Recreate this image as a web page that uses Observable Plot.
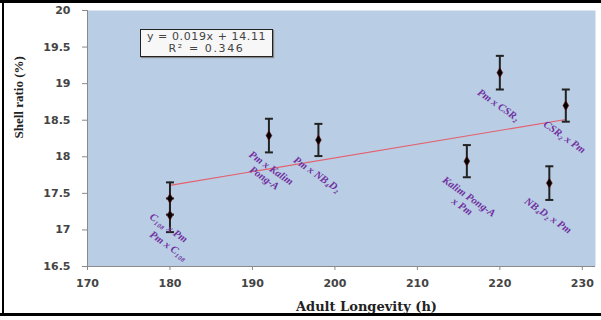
<!DOCTYPE html>
<html>
<head>
<meta charset="utf-8">
<script src="https://cdn.jsdelivr.net/npm/d3@7"></script>
<script src="https://cdn.jsdelivr.net/npm/@observablehq/plot@0.6"></script>
<style>
  html, body { margin: 0; padding: 0; background: #fff; }
  #wrap { position: relative; width: 601px; height: 320px; overflow: hidden; }
  #eq { position: absolute; left: 140px; top: 29px; width: 131px; height: 25px;
        border: 1.5px solid #222; background: #f7f7f7; box-shadow: 1px 1px 1px #888;
        font: 11px "DejaVu Sans", sans-serif; color: #444; text-align: center; line-height: 12px;
        letter-spacing: 0.6px; padding-top: 1px; }
  #eq2 { letter-spacing: 1.6px; }
  .bl { position: absolute; background: #000; }
</style>
</head>
<body>
<div id="wrap">
  <div id="chart"></div>
  <div id="eq"><div id="eq1"></div><div id="eq2"></div></div>
  <div class="bl" style="left:0;top:0;width:601px;height:3px"></div>
  <div class="bl" style="left:2px;top:0;width:2px;height:316px"></div>
  <div class="bl" style="left:0;top:313px;width:601px;height:3px"></div>
</div>
<script>
// ---- data ----
const crosses = ["C₁₀₈ x Pm", "Pm x C₁₀₈", "Pm x Kalim\nPong-A", "Pm x NB₄D₂", "Kalim Pong-A\nx Pm", "Pm x CSR₂", "CSR₂ x Pm", "NB₄D₂ x Pm"];
const longevity = [180, 180, 192, 198, 216, 220, 228, 226];
const shellRatio = [17.43, 17.20, 18.29, 18.23, 17.94, 19.15, 18.70, 17.64];
const errorBar = [0.22, 0.23, 0.23, 0.22, 0.22, 0.23, 0.22, 0.23];
const trendX = [180, 228];
const trendY = [17.61, 18.51];
const xTicks = [170, 180, 190, 200, 210, 220, 230];
const yTicks = [16.5, 17, 17.5, 18, 18.5, 19, 19.5, 20];
const yTickLabels = ["16.5", "17", "17.5", "18", "18.5", "19", "19.5", "20"];
const equationLines = ["y = 0.019x + 14.11", "R² = 0.346"];
const xTitle = "Adult Longevity (h)";
const yTitle = "Shell ratio (%)";

// ---- build ----
const pts = crosses.map((c, i) => ({c, x: longevity[i], y: shellRatio[i], lo: shellRatio[i] - errorBar[i], hi: shellRatio[i] + errorBar[i]}));
const trend = trendX.map((x, i) => ({x, y: trendY[i]}));
const labelDy = [29, 30, 37, 34, 40, 32, 31, 32];
const capSymbol = { draw(ctx) { ctx.moveTo(-4, 0); ctx.lineTo(4, 0); } };
const labelFont = { fontFamily: "Liberation Serif, serif", fontStyle: "italic", fontWeight: "bold", fontSize: 10.5, fill: "#7030a0" };

const chart = Plot.plot({
  width: 601, height: 320,
  marginLeft: 87, marginRight: 6, marginTop: 10, marginBottom: 54,
  style: { background: "transparent", fontFamily: "DejaVu Sans, sans-serif" },
  x: { domain: [170, 231.6], ticks: xTicks, label: null },
  y: { domain: [16.5, 20], ticks: yTicks, label: null },
  marks: [
    Plot.frame({ fill: "#b9cde5", stroke: null }),
    Plot.ruleX([170], { stroke: "#8a8a8a" }),
    Plot.ruleY([16.5], { stroke: "#8a8a8a" }),
    Plot.axisY({ ticks: yTicks, tickFormat: (d) => yTickLabels[yTicks.indexOf(d)], tickSize: 5, tickPadding: 12, stroke: "#8a8a8a", fill: "#444", fontSize: 11, fontWeight: "bold", label: null }),
    Plot.axisX({ ticks: xTicks, tickFormat: (d) => String(d), tickSize: 4, tickPadding: 9, stroke: "#8a8a8a", fill: "#444", fontSize: 11, fontWeight: "bold", label: null }),
    Plot.line(trend, { x: "x", y: "y", stroke: "#e5606c", strokeWidth: 1.2 }),
    Plot.ruleX(pts, { x: "x", y1: "lo", y2: "hi", stroke: "#222", strokeWidth: 2 }),
    Plot.dot(pts, { x: "x", y: "lo", symbol: capSymbol, r: 4, stroke: "#222", strokeWidth: 2, fill: "none" }),
    Plot.dot(pts, { x: "x", y: "hi", symbol: capSymbol, r: 4, stroke: "#222", strokeWidth: 2, fill: "none" }),
    Plot.dot(pts, { x: "x", y: "y", symbol: "diamond", r: 3, fill: "#000", stroke: "#6a0a0a", strokeWidth: 0.6 }),
    ...pts.map((p, i) => Plot.text([p], { x: "x", y: "y", text: "c", rotate: 35, dx: -1, dy: labelDy[i], textAnchor: "middle", lineAnchor: "middle", lineHeight: 1.15, ...labelFont })),
    Plot.text([xTitle], { frameAnchor: "bottom", text: (d) => d, dx: 25, dy: 44, lineAnchor: "bottom", fontFamily: "DejaVu Serif, serif", fontWeight: "bold", fontSize: 13, letterSpacing: 1, fill: "#222" }),
    Plot.text([yTitle], { frameAnchor: "left", text: (d) => d, rotate: -90, dx: -69, lineAnchor: "middle", fontFamily: "Liberation Serif, serif", fontWeight: "bold", fontSize: 13, fill: "#222" })
  ]
});
document.getElementById("chart").appendChild(chart);
document.getElementById("eq1").textContent = equationLines[0];
document.getElementById("eq2").textContent = equationLines[1];
</script>
</body>
</html>
